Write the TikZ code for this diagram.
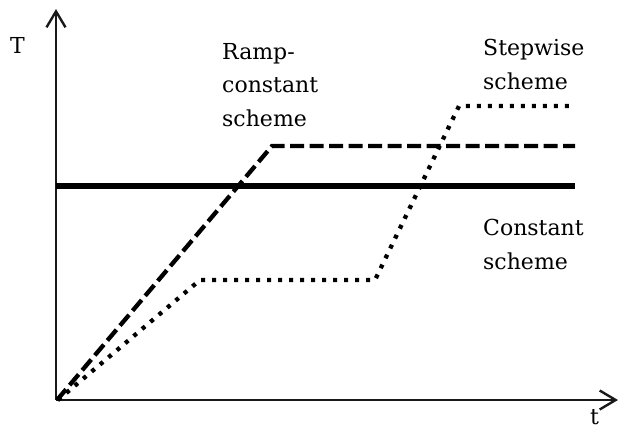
\documentclass[tikz,border=0pt]{standalone}
\usepackage{fontspec}
\setmainfont{DejaVu Serif}
\usetikzlibrary{arrows.meta}
\begin{document}
\begin{tikzpicture}[x=1pt,y=-1pt,
  axisline/.style={line width=2.4pt,draw=black!90},
  axisarrow/.style={-{Straight Barb[length=16pt,width=19pt,line width=2.4pt]}},
  constline/.style={line width=5.5pt},
  rampline/.style={line width=4.3pt,dash pattern=on 14pt off 5.5pt},
  stepline/.style={line width=4.3pt,dash pattern=on 4pt off 7pt},
  lbl/.style={font=\fontsize{22}{33.5}\selectfont,inner sep=0pt,align=left,anchor=base west,text=black}]
\useasboundingbox (0,0) rectangle (620,428);
% axes
\coordinate (O) at (56,400);
\coordinate (Ytip) at (56,9);
\coordinate (Xtip) at (618,400);
\draw[axisline,axisarrow] (O) -- (Ytip);
\draw[axisline,axisarrow] (O) -- (Xtip);
\node[lbl] (Tlbl) at (10,53) {T};
\node[lbl] (tlbl) at (590,424) {t};
% constant scheme
\coordinate (c0) at (56,186);
\coordinate (c1) at (575,186);
\draw[constline] (c0) -- (c1);
% ramp-constant scheme
\coordinate (r0) at (57,400);
\coordinate (r1) at (272,146);
\coordinate (r2) at (575,146);
\draw[rampline] (r0) -- (r1) -- (r2);
% stepwise scheme
\coordinate (s0) at (58,400);
\coordinate (s1) at (200,280);
\coordinate (s2) at (375,280);
\coordinate (s3) at (459,106);
\coordinate (s4) at (575,106);
\draw[stepline] (s0) -- (s1) -- (s2) -- (s3) -- (s4);
% labels (anchored at the baseline of the last line)
\node[lbl] (ramp) at (222,126) {Ramp-\\constant\\scheme};
\node[lbl] (step) at (483,89) {Stepwise\\scheme};
\node[lbl] (const) at (483,269) {Constant\\scheme};
\end{tikzpicture}
\end{document}
